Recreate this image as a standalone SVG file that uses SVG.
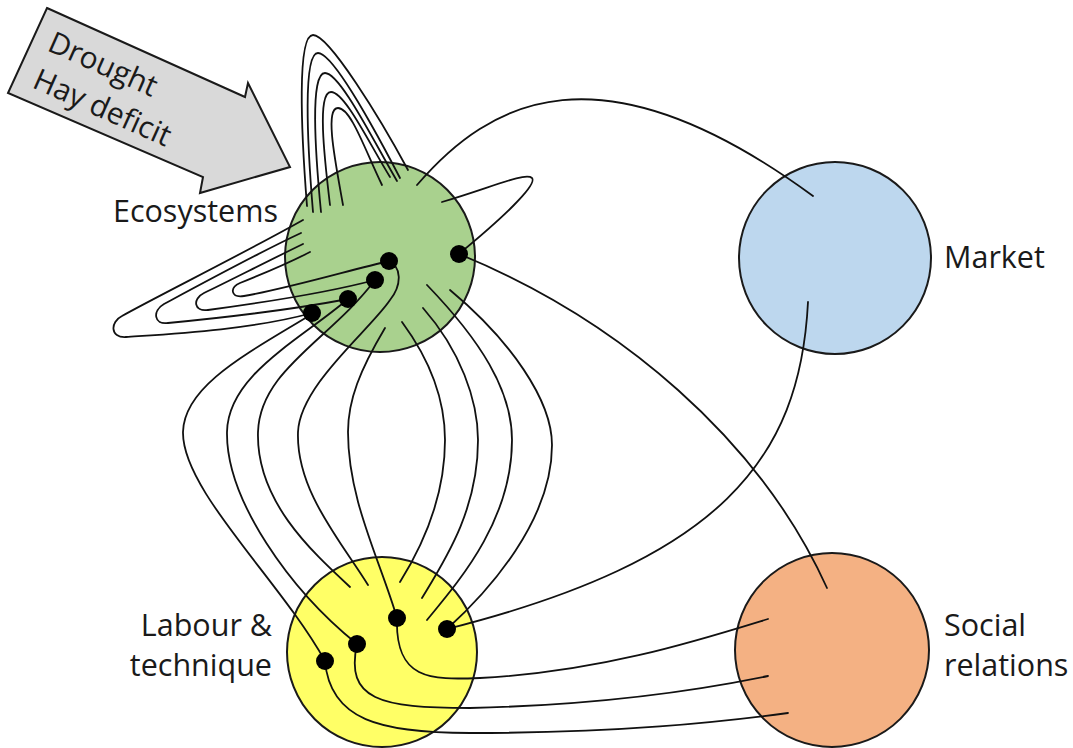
<svg xmlns="http://www.w3.org/2000/svg" width="1073" height="748" viewBox="0 0 1073 748">
  <style>
    .node { stroke: #1a1a1a; stroke-width: 2; }
    .label { font-family: "Open Sans", "Noto Sans", "Liberation Sans", sans-serif; font-size: 30.5px; fill: #1a1a1a; }
    .arrow-text { font-family: "Open Sans", "Noto Sans", "Liberation Sans", sans-serif; font-size: 30px; fill: #1a1a1a; }
    .link { fill: none; stroke: #111; stroke-width: 1.8; stroke-linecap: round; }
    .dot { fill: #000; }
  </style>

  <rect width="1073" height="748" fill="#fff"/>

  <!-- external pressure arrow -->
  <g id="pressure">
    <polygon points="47,8 245,97 248,83 290,167 200,193 203,177 8,93" fill="#d9d9d9" stroke="#1a1a1a" stroke-width="2" stroke-linejoin="miter"/>
    <text class="arrow-text" transform="translate(46,50) rotate(24)">Drought</text>
    <text class="arrow-text" transform="translate(31,87) rotate(24)">Hay deficit</text>
  </g>

  <!-- nodes -->
  <g id="ecosystems">
    <circle class="node" cx="380" cy="257" r="95" fill="#a9d18e"/>
    <text class="label" x="278" y="222" text-anchor="end">Ecosystems</text>
  </g>
  <g id="market">
    <circle class="node" cx="835" cy="258" r="96" fill="#bdd7ee"/>
    <text class="label" x="944" y="268">Market</text>
  </g>
  <g id="labour">
    <circle class="node" cx="382" cy="652" r="95" fill="#ffff66"/>
    <text class="label" x="272" y="636" text-anchor="end">Labour &amp;</text>
    <text class="label" x="272" y="676" text-anchor="end">technique</text>
  </g>
  <g id="social">
    <circle class="node" cx="832" cy="650" r="97" fill="#f4b183"/>
    <text class="label" x="944" y="636">Social</text>
    <text class="label" x="944" y="676">relations</text>
  </g>

  <!-- connectors -->
  <g id="connectors">
    <!-- ecosystem self-loops, upward -->
    <path class="link" d="M 307,206 C 301,130 297,35 313,35 C 329,35 380,118 408,170"/>
    <path class="link" d="M 313,212 C 307,140 303,53 318,53 C 333,53 375,130 400,178"/>
    <path class="link" d="M 321,212 C 315,150 310,73 325,73 C 340,73 373,140 397,181"/>
    <path class="link" d="M 330,205 C 324,155 317,92 331,92 C 345,92 370,145 390,177"/>
    <path class="link" d="M 343,205 C 336,165 324,108 338,108 C 351,108 365,150 382,185"/>

    <!-- ecosystem self-loops, to the left -->
    <path class="link" d="M 303,220 C 250,250 150,300 122,316 C 110,322 110,338 126,337 C 170,334 250,330 312,313"/>
    <path class="link" d="M 301,233 C 260,252 190,290 164,304 C 152,311 154,325 168,323 C 220,318 290,310 348,299"/>
    <path class="link" d="M 303,244 C 270,260 225,283 204,293 C 192,299 194,312 208,310 C 260,303 330,292 375,280"/>
    <path class="link" d="M 310,252 C 285,265 255,277 240,283 C 229,288 231,298 244,296 C 290,288 350,270 389,261"/>

    <!-- ecosystem self-loop, to the right -->
    <path class="link" d="M 442,202 C 490,188 525,172 532,178 C 538,185 500,220 460,253"/>

    <!-- ecosystems to market -->
    <path class="link" d="M 417,185 C 490,100 600,40 813,196"/>
    <!-- ecosystems to social relations -->
    <path class="link" d="M 459,254 C 620,320 760,440 827,588"/>
    <!-- market to labour -->
    <path class="link" d="M 808,302 C 800,460 720,560 447,629"/>

    <!-- ecosystems to labour, left bundle -->
    <path class="link" d="M 312,314 C 250,352 184,385 183,432 C 182,490 280,580 325,661"/>
    <path class="link" d="M 348,299 C 300,340 228,375 227,432 C 226,500 290,590 357,644"/>
    <path class="link" d="M 375,280 C 330,340 260,370 258,432 C 256,500 310,550 350,587"/>
    <path class="link" d="M 388,261 C 402,266 402,285 390,300 C 370,330 300,385 298,432 C 296,490 340,540 368,585"/>
    <path class="link" d="M 385,328 C 360,370 348,400 348,432 C 348,500 380,560 397,618"/>

    <!-- ecosystems to labour, right bundle -->
    <path class="link" d="M 402,322 C 430,360 445,400 445,440 C 445,500 420,550 400,582"/>
    <path class="link" d="M 423,308 C 460,350 478,400 478,440 C 478,510 445,560 422,598"/>
    <path class="link" d="M 427,285 C 480,340 512,390 512,440 C 512,520 460,580 427,620"/>
    <path class="link" d="M 450,290 C 510,340 552,400 552,445 C 552,520 490,590 447,629"/>

    <!-- labour to social relations -->
    <path class="link" d="M 397,618 C 395,680 430,680 480,678 C 600,672 700,640 768,619"/>
    <path class="link" d="M 357,644 C 345,700 380,708 470,708 C 600,705 700,690 768,676"/>
    <path class="link" d="M 325,661 C 330,720 380,733 470,733 C 620,733 720,722 788,713"/>

    <!-- connection points -->
    <circle class="dot" cx="389" cy="261" r="9"/>
    <circle class="dot" cx="375" cy="280" r="9"/>
    <circle class="dot" cx="348" cy="299" r="9"/>
    <circle class="dot" cx="312" cy="313" r="9"/>
    <circle class="dot" cx="459" cy="254" r="9"/>
    <circle class="dot" cx="397" cy="618" r="9"/>
    <circle class="dot" cx="357" cy="644" r="9"/>
    <circle class="dot" cx="325" cy="661" r="9"/>
    <circle class="dot" cx="447" cy="629" r="9"/>
  </g>
</svg>
